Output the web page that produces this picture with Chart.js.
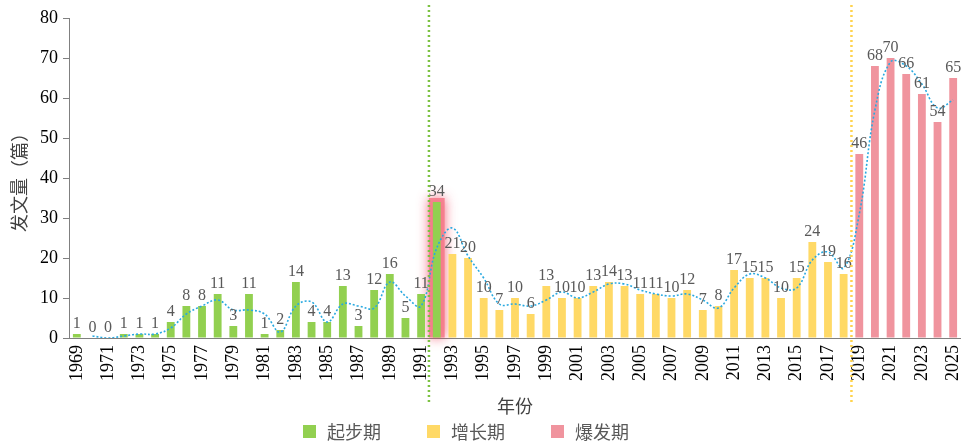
<!DOCTYPE html>
<html>
<head>
<meta charset="utf-8">
<script src="https://cdn.jsdelivr.net/npm/chart.js@4"></script>
<style>
  html, body { margin: 0; padding: 0; background: #fff; }
  #wrap { width: 961px; height: 445px; }
</style>
</head>
<body>
<div id="wrap"><canvas id="chart1"></canvas></div>
<script>
// data
var years = [];
for (var y = 1969; y <= 2025; y++) years.push(String(y));

var counts = [1,0,0,1,1,1,4,8,8,11,
              3,11,1,2,14,4,4,13,3,12,
              16,5,11,34,21,20,10,7,10,6,
              13,10,10,13,14,13,11,11,10,12,
              7,8,17,15,15,10,15,24,19,16,
              46,68,70,66,61,54,65];

// 2-period moving average trend line as drawn in the picture
var trend = [null,0.5,0,0.5,1,1,2.5,6,8,9.5,
             7,7,6,1.5,8,9,4,8.5,8,7.5,
             14,10.5,8,22.5,27.5,20.5,15,8.5,8.5,8,
             9.5,11.5,10,11.5,13.5,13.5,12,11,10.5,11,
             9.5,7.5,12.5,16,15,12.5,12.5,19.5,21.5,17.5,
             31,57,69,68,63.5,57.5,59.5];

var periodNames = ['起步期','增长期','爆发期'];
var periodColors = ['#92d050','#ffd966','#f0949e'];
// last year of each period
var periodEnd = ['1992','2018','2025'];
var yTicks = [0,10,20,30,40,50,60,70,80];

var barColors = years.map(function(yr) {
    if (yr <= periodEnd[0]) return periodColors[0];
    if (yr <= periodEnd[1]) return periodColors[1];
    return periodColors[2];
});

var serif = '"Liberation Serif", "Times New Roman", serif';
var cjk = '"Noto Sans CJK SC", sans-serif';

const extras = {
    id: 'extras',
    beforeDatasetsDraw(chart) {
        // pink glow behind the 1992 bar
        const ctx = chart.ctx;
        const bar = chart.getDatasetMeta(0).data[years.indexOf('1992')];
        ctx.save();
        ctx.shadowColor = 'rgba(240,50,80,0.85)';
        ctx.shadowBlur = 12;
        ctx.fillStyle = 'rgba(245,120,135,0.85)';
        ctx.fillRect(bar.x - bar.width/2 - 4, bar.y - 4, bar.width + 8, bar.base - bar.y + 4);
        ctx.restore();
    },
    afterDatasetsDraw(chart) {
        const ctx = chart.ctx;
        const meta = chart.getDatasetMeta(0);
        ctx.save();
        ctx.font = '16px ' + serif;
        ctx.fillStyle = '#595959';
        ctx.textAlign = 'center';
        ctx.textBaseline = 'bottom';
        meta.data.forEach(function(bar, i) {
            ctx.fillText(String(counts[i]), bar.x, bar.y - 2);
        });
        // dotted period separators
        const xs = chart.scales.x;
        [periodEnd[0], periodEnd[1]].forEach(function(yr, k) {
            var i = years.indexOf(yr);
            var px = k == 0 ? (xs.getPixelForValue(i - 1) + xs.getPixelForValue(i)) / 2
                            : (xs.getPixelForValue(i) + xs.getPixelForValue(i + 1)) / 2;
            ctx.beginPath();
            ctx.setLineDash([2, 3]);
            ctx.lineWidth = 2.5;
            ctx.strokeStyle = k == 0 ? '#7cc242' : '#ffd34d';
            ctx.moveTo(px, 5);
            ctx.lineTo(px, 405);
            ctx.stroke();
        });
        ctx.setLineDash([]);
        // legend
        var lx = [303, 427, 551];
        ctx.font = '18px ' + cjk;
        ctx.textAlign = 'left';
        ctx.textBaseline = 'middle';
        periodNames.forEach(function(n, i) {
            ctx.fillStyle = periodColors[i];
            ctx.fillRect(lx[i], 425, 13, 13);
            ctx.fillStyle = '#595959';
            ctx.fillText(n, lx[i] + 24, 432);
        });
        ctx.restore();
    }
};

var config = {
    data: {
        labels: years,
        datasets: [{
            type: 'bar',
            data: counts,
            backgroundColor: barColors,
            barPercentage: 0.5,
            categoryPercentage: 1.0,
            order: 2
        }, {
            type: 'line',
            data: trend,
            borderColor: '#29a9e0',
            borderWidth: 1.6,
            borderDash: [2, 2],
            pointRadius: 0,
            tension: 0.4,
            fill: false,
            order: 1
        }]
    },
    options: {
        responsive: true,
        maintainAspectRatio: false,
        animation: false,
        layout: { padding: { top: 18, right: 0, left: 0, bottom: 28 } },
        scales: {
            x: {
                afterFit: function(s) { s.height = 79; s.paddingLeft = 0; s.paddingRight = 0; },
                grid: { display: false, drawTicks: false },
                border: { color: '#808080' },
                ticks: {
                    autoSkip: false,
                    maxRotation: 90,
                    minRotation: 90,
                    padding: 7,
                    color: '#000',
                    font: { family: serif, size: 18 },
                    callback: function(v, i) { return i % 2 == 0 ? years[i] : ''; }
                },
                title: {
                    display: true,
                    text: '年份',
                    color: '#404040',
                    font: { family: cjk, size: 18 },
                    padding: { top: 0, bottom: 0 }
                }
            },
            y: {
                min: 0,
                max: 80,
                afterFit: function(s) { s.width = 69; s.paddingTop = 0; s.paddingBottom = 0; },
                afterBuildTicks: function(s) { s.ticks = yTicks.map(function(v) { return { value: v }; }); },
                grid: { display: true, drawOnChartArea: false, drawTicks: true, tickLength: 6, color: '#808080' },
                border: { color: '#808080' },
                ticks: {
                    color: '#000',
                    padding: 5,
                    font: { family: serif, size: 18 }
                },
                title: {
                    display: true,
                    text: '发文量（篇）',
                    color: '#404040',
                    font: { family: cjk, size: 18 },
                    padding: { top: 8, bottom: 0 }
                }
            }
        },
        plugins: {
            tooltip: { enabled: false },
            legend: { display: false }
        }
    },
    plugins: [extras]
};

var ctx1 = document.getElementById('chart1').getContext('2d');
window.GenChart1 = new Chart(ctx1, config);
</script>
</body>
</html>
